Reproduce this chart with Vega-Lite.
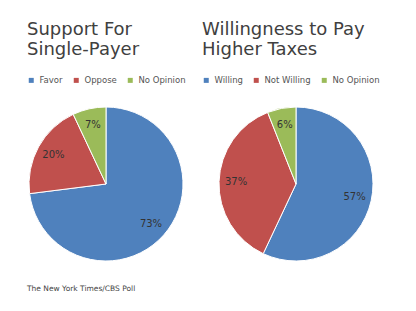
{
  "$schema": "https://vega.github.io/schema/vega-lite/v6.json",
  "background": "white",
  "padding": {"left": 27, "top": 21, "right": 0, "bottom": 0},
  "config": {
    "view": {"stroke": null},
    "font": "DejaVu Sans",
    "legend": {"labelFont": "DejaVu Sans"}
  },
  "title": {"text": "The New York Times/CBS Poll", "orient": "bottom", "anchor": "start", "fontSize": 7.5, "fontWeight": "normal", "color": "#444444", "offset": 22},
  "spacing": 16,
  "resolve": {"scale": {"color": "independent", "theta": "independent"}, "legend": {"color": "independent"}},
  "hconcat": [
    {
      "width": 158,
      "height": 154,
      "title": {"text": ["Support For", "Single-Payer"], "anchor": "start", "fontSize": 18, "fontWeight": "normal", "color": "#404040", "lineHeight": 20, "offset": 17},
      "data": {"values": [
        {"category": "Favor", "pct": 73, "order": 1, "label": "73%"},
        {"category": "Oppose", "pct": 20, "order": 2, "label": "20%"},
        {"category": "No Opinion", "pct": 7, "order": 3, "label": "7%"}
      ]},
      "encoding": {
        "theta": {"field": "pct", "type": "quantitative", "stack": true},
        "order": {"field": "order", "type": "quantitative"}
      },
      "layer": [
        {
          "mark": {"type": "arc", "outerRadius": 77, "stroke": "white", "strokeWidth": 1},
          "encoding": {
            "color": {"field": "category", "type": "nominal",
              "scale": {"domain": ["Favor", "Oppose", "No Opinion"], "range": ["#4F81BD", "#C0504D", "#9BBB59"]},
              "sort": null,
              "legend": {"orient": "top", "direction": "horizontal", "title": null, "symbolType": "square", "symbolSize": 25, "labelFontSize": 8.5, "labelColor": "#555555", "columnPadding": 9, "offset": 22, "symbolStrokeWidth": 0}
            }
          }
        },
        {
          "mark": {"type": "text", "radius": 60, "fontSize": 10, "fill": "#333333"},
          "encoding": {"detail": {"field": "category", "type": "nominal"}, "text": {"field": "label"}}
        }
      ]
    },
    {
      "width": 188,
      "height": 154,
      "title": {"text": ["Willingness to Pay", "Higher Taxes"], "anchor": "start", "fontSize": 18, "fontWeight": "normal", "color": "#404040", "lineHeight": 20, "offset": 17},
      "data": {"values": [
        {"category": "Willing", "pct": 57, "order": 1, "label": "57%"},
        {"category": "Not Willing", "pct": 37, "order": 2, "label": "37%"},
        {"category": "No Opinion", "pct": 6, "order": 3, "label": "6%"}
      ]},
      "encoding": {
        "theta": {"field": "pct", "type": "quantitative", "stack": true},
        "order": {"field": "order", "type": "quantitative"}
      },
      "layer": [
        {
          "mark": {"type": "arc", "outerRadius": 77, "stroke": "white", "strokeWidth": 1},
          "encoding": {
            "color": {"field": "category", "type": "nominal",
              "scale": {"domain": ["Willing", "Not Willing", "No Opinion"], "range": ["#4F81BD", "#C0504D", "#9BBB59"]},
              "sort": null,
              "legend": {"orient": "top", "direction": "horizontal", "title": null, "symbolType": "square", "symbolSize": 25, "labelFontSize": 8.5, "labelColor": "#555555", "columnPadding": 9, "offset": 22, "symbolStrokeWidth": 0}
            }
          }
        },
        {
          "mark": {"type": "text", "radius": 60, "fontSize": 10, "fill": "#333333"},
          "encoding": {"detail": {"field": "category", "type": "nominal"}, "text": {"field": "label"}}
        }
      ]
    }
  ]
}
